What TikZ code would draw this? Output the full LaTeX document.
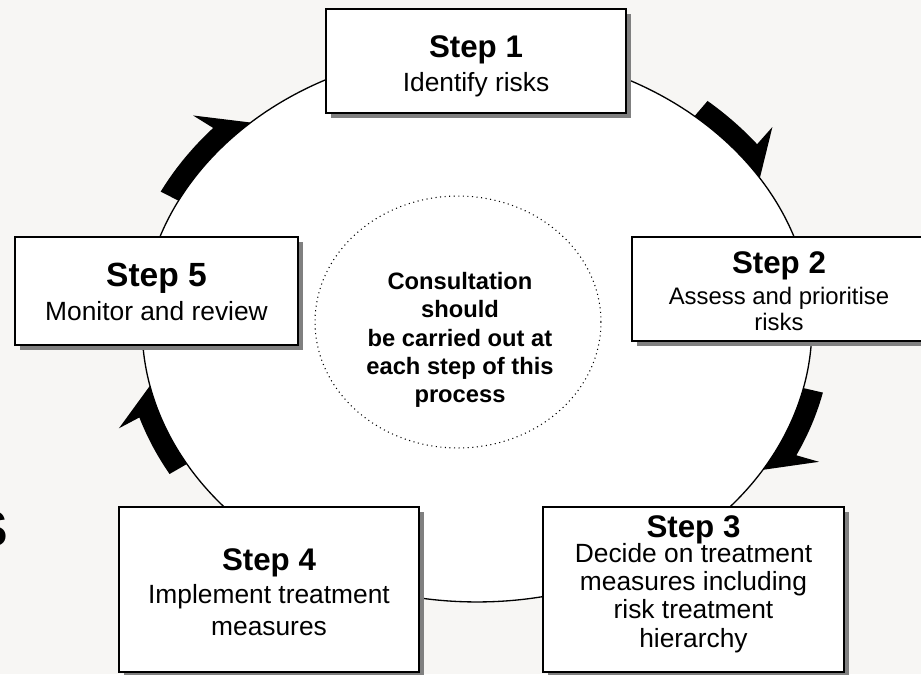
\documentclass[tikz,border=0pt]{standalone}
\usepackage{fontspec}
\setmainfont{Liberation Sans}
\usetikzlibrary{shadows}
\definecolor{pagebg}{RGB}{247,246,244}
\definecolor{shadowgrey}{RGB}{128,128,128}

% Curved block arrow lying on the outside of the ring.
% #1 = angle of the point, #2 = angle of the tail (degrees, counter-clockwise)
\newcommand\ringarrow[2]{%
  \pgfmathsetmacro\arrowhb{#1+5.5}%
  \pgfmathsetmacro\arrowbb{#1+6.2}%
  \fill[black] plot[domain=#2:#1, samples=25, variable=\ang] ({477+335*cos(\ang)},{326-276*sin(\ang)})
    -- ({477+378*cos(\arrowbb)},{326-319*sin(\arrowbb)})
    -- plot[domain=\arrowhb:#2, samples=25, variable=\ang] ({477+355*cos(\ang)},{326-296*sin(\ang)})
    -- cycle;
}

\begin{document}
\begin{tikzpicture}[x=0.02cm, y=-0.02cm,
  stepbox/.style={draw=black, line width=1.1pt, fill=white, inner sep=0pt, outer sep=0pt,
    drop shadow={shadow xshift=0.1cm, shadow yshift=-0.1cm, fill=shadowgrey, opacity=1}},
  boxsize/.style 2 args={minimum width=#1*0.02cm, minimum height=#2*0.02cm},
  steptitle/.style={anchor=base, inner sep=0pt, font=\fontsize{17.8}{20}\selectfont\bfseries},
  steptext/.style={anchor=base, inner sep=0pt, font=\fontsize{15}{17}\selectfont},
  centretext/.style={anchor=base, inner sep=0pt, font=\fontsize{13.5}{16}\selectfont\bfseries},
  ring/.style={draw=black, line width=0.75pt, fill=white},
  consult/.style={draw=black, line width=0.6pt, dotted, fill=white}]

\useasboundingbox (0,0) rectangle (921,674);
\clip (0,0) rectangle (921,674);
\fill[pagebg] (0,0) rectangle (921,674);

% large letter cut by the left edge
\node[anchor=base east, inner sep=0pt, font=\fontsize{28.6}{30}\selectfont\bfseries] (edgeS) at (8,546) {S};

% the cycle ring
\path[ring] (477,326) ellipse [x radius=6.7cm, y radius=5.52cm];

% clockwise arrows on the ring
\ringarrow{132.5}{153}
\ringarrow{32.4}{49.5}
\ringarrow{-31.4}{-13}
\ringarrow{192.5}{210}

% consultation note in the middle
\path[consult] (458,322) ellipse [x radius=2.86cm, y radius=2.52cm];
\node[centretext] (c1) at (460,289) {Consultation};
\node[centretext] (c2) at (460,317.5) {should};
\node[centretext] (c3) at (460,346) {be carried out at};
\node[centretext] (c4) at (460,374) {each step of this};
\node[centretext] (c5) at (460,402) {process};

% step boxes
\node[stepbox, boxsize={300}{104}] (box1) at (476,61) {};
\node[stepbox, boxsize={294}{104}] (box2) at (779,289) {};
\node[stepbox, boxsize={301}{165}] (box3) at (693.5,589.5) {};
\node[stepbox, boxsize={300}{165}] (box4) at (269,589.5) {};
\node[stepbox, boxsize={283}{108}] (box5) at (156.5,291) {};

% step texts
\node[steptitle] (t1) at (476,57) {Step 1};
\node[steptext] (d1) at (476,91) {Identify risks};

\node[steptitle] (t2) at (779,273) {Step 2};
\node[steptext, font=\fontsize{13.6}{16}\selectfont] (d2a) at (779,304) {Assess and prioritise};
\node[steptext, font=\fontsize{13.6}{16}\selectfont] (d2b) at (779,330) {risks};

\node[steptitle] (t3) at (693.5,537) {Step 3};
\node[steptext] (d3a) at (693.5,562) {Decide on treatment};
\node[steptext] (d3b) at (693.5,590) {measures including};
\node[steptext] (d3c) at (693.5,618) {risk treatment};
\node[steptext] (d3d) at (693.5,647) {hierarchy};

\node[steptitle] (t4) at (269,570) {Step 4};
\node[steptext] (d4a) at (269,603) {Implement treatment};
\node[steptext] (d4b) at (269,635) {measures};

\node[steptitle, font=\fontsize{19.1}{22}\selectfont\bfseries] (t5) at (156.5,286) {Step 5};
\node[steptext] (d5) at (156.5,320) {Monitor and review};

\end{tikzpicture}
\end{document}
